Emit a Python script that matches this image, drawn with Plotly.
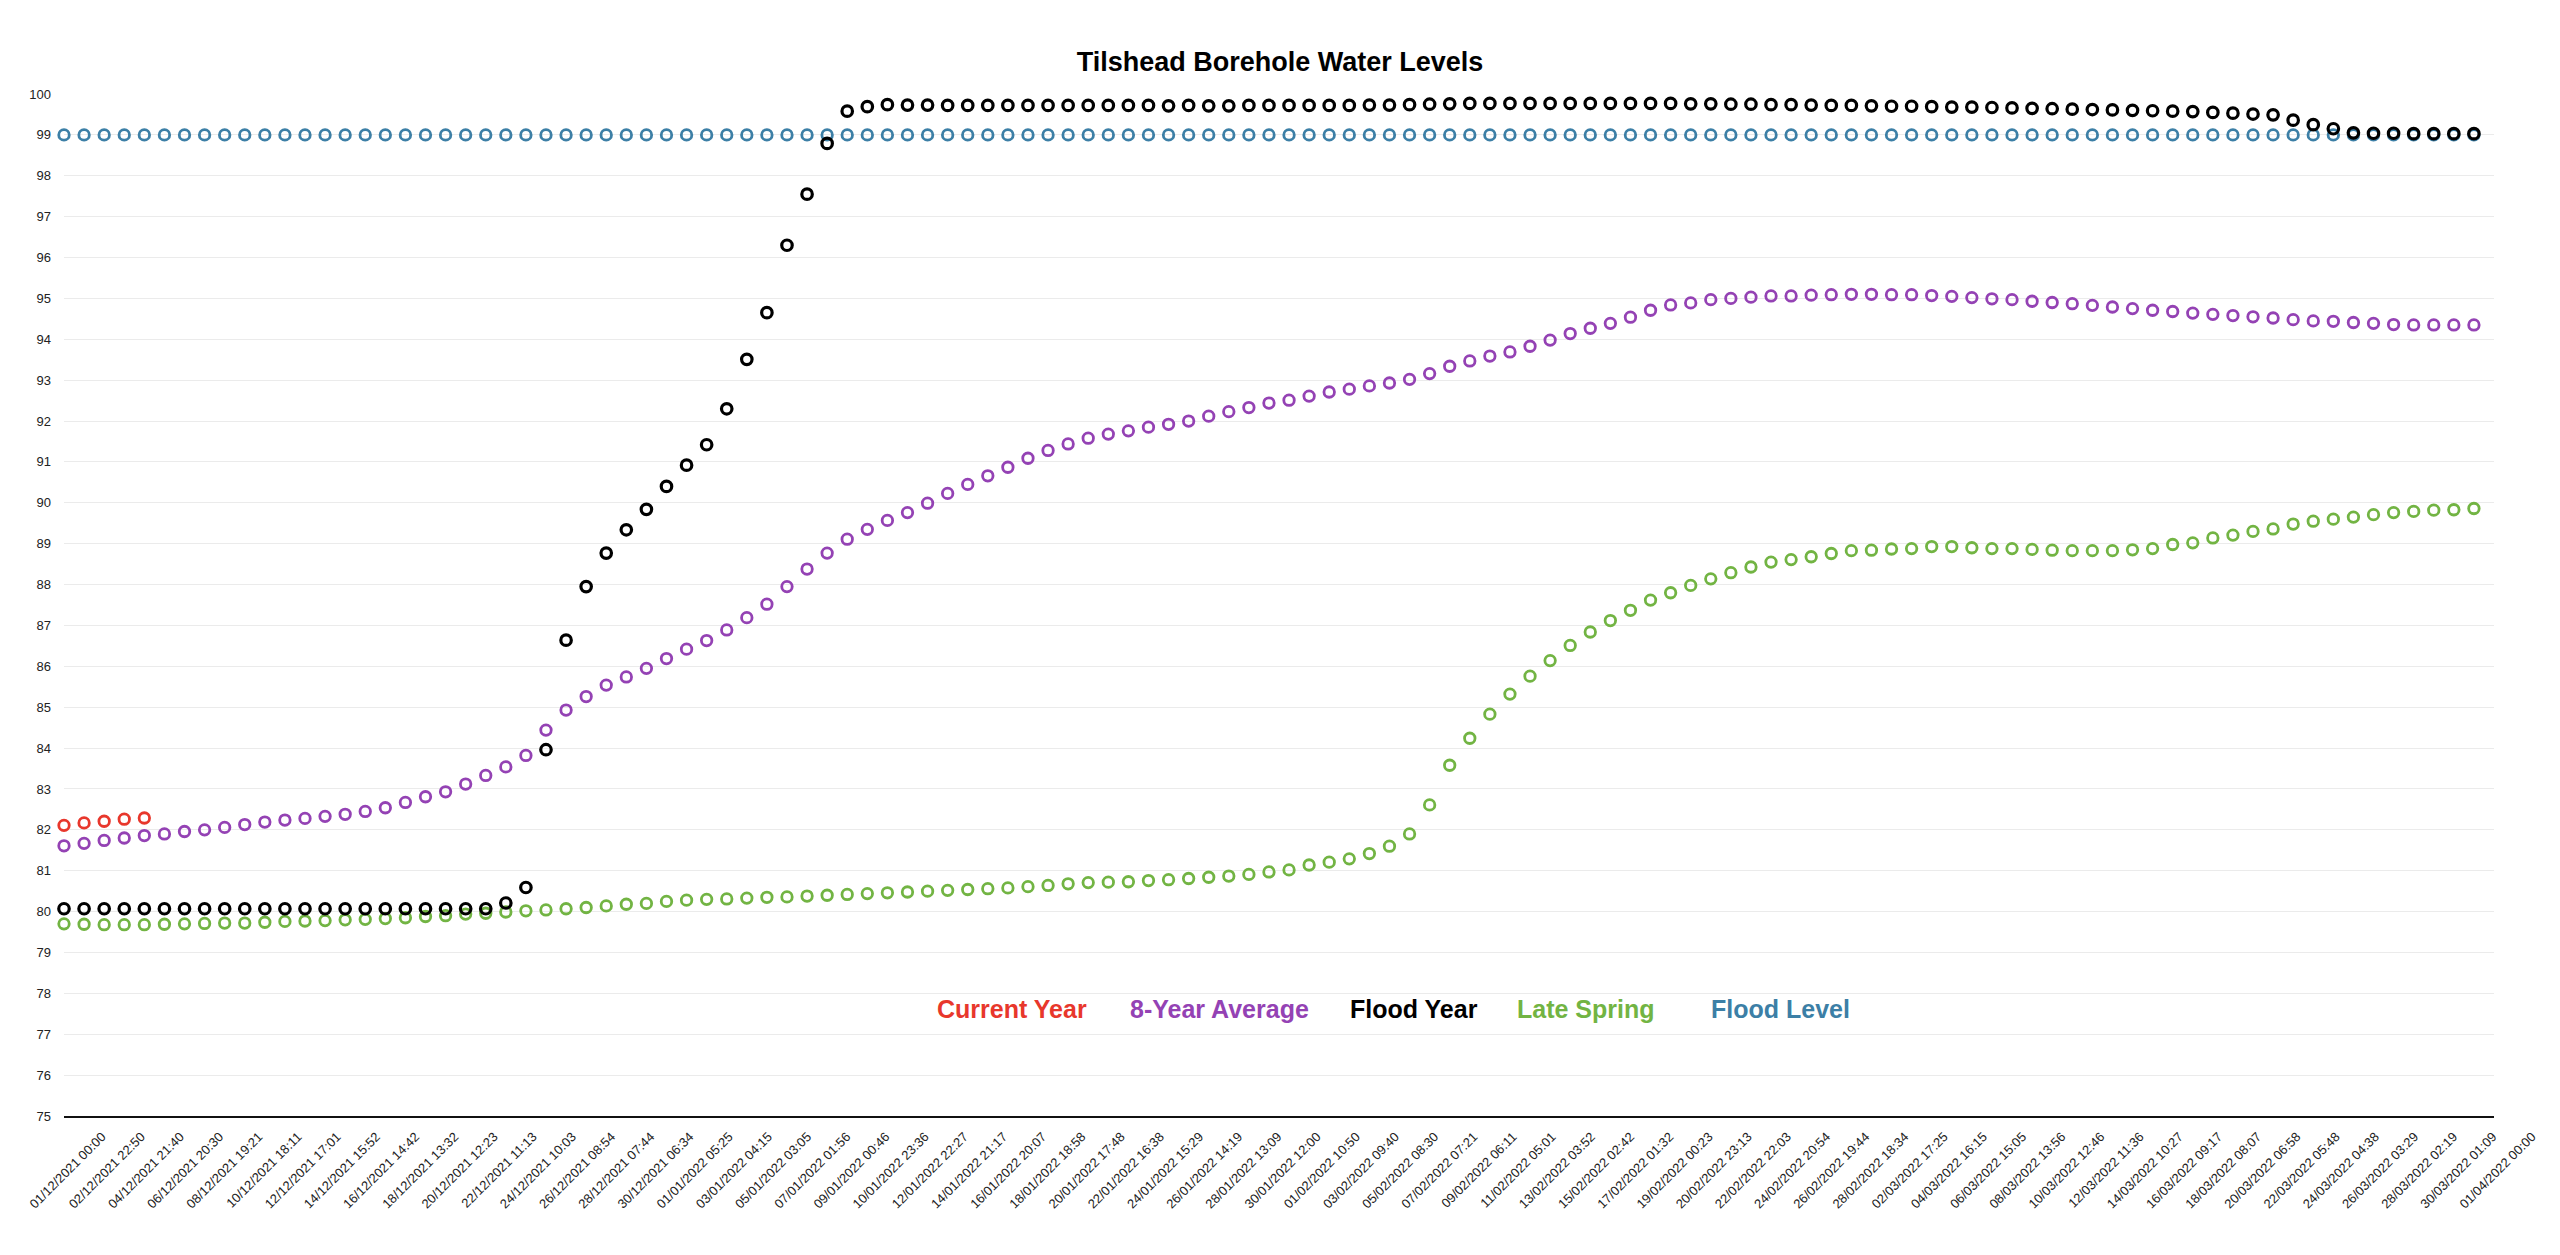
import pandas as pd
import plotly.graph_objects as go

# ---------------- data ----------------
start_date = "2021-12-01"

current_year = [82.11, 82.17, 82.21, 82.26, 82.29]

avg_8_year = [
    81.61, 81.67, 81.74, 81.80, 81.86, 81.90, 81.96, 82.00, 82.06, 82.13, 82.19, 82.24,
    82.28, 82.33, 82.38, 82.45, 82.54, 82.67, 82.81, 82.93, 83.12, 83.33, 83.54, 83.82,
    84.44, 84.93, 85.26, 85.54, 85.74, 85.95, 86.19, 86.42, 86.63, 86.89, 87.19, 87.52,
    87.95, 88.38, 88.77, 89.11, 89.35, 89.57, 89.76, 89.99, 90.23, 90.45, 90.66, 90.87,
    91.09,
    91.28, 91.44, 91.58, 91.68, 91.76, 91.85, 91.92, 92.00, 92.12, 92.23, 92.33, 92.44,
    92.51, 92.61, 92.71, 92.78, 92.86, 92.93, 93.02, 93.16, 93.34, 93.47, 93.59, 93.69,
    93.83, 93.98, 94.14, 94.27, 94.39, 94.54, 94.71,
    94.84, 94.89, 94.97, 95.00, 95.03, 95.06, 95.06, 95.08, 95.09, 95.10, 95.10, 95.09,
    95.09, 95.07, 95.05, 95.02, 94.99, 94.97, 94.93, 94.90, 94.87, 94.83, 94.79, 94.75,
    94.71, 94.68, 94.64, 94.61, 94.58, 94.55, 94.52, 94.48, 94.45, 94.44, 94.41, 94.39,
    94.36, 94.35, 94.35, 94.35, 94.35,
]

flood_year = [
    80.07, 80.07, 80.07, 80.07, 80.07, 80.07, 80.07, 80.07, 80.07, 80.07, 80.07,
    80.07, 80.07, 80.07, 80.07, 80.07, 80.07, 80.07, 80.07, 80.07, 80.07, 80.07,
    80.21, 80.59, 83.96, 86.64, 87.95, 88.77, 89.34, 89.84, 90.40, 90.92, 91.42,
    92.30, 93.51, 94.65, 96.30, 97.55, 98.79, 99.58, 99.69,
    99.74, 99.73, 99.73, 99.72, 99.72, 99.72, 99.72, 99.72,
    99.72, 99.72, 99.72, 99.72, 99.72, 99.72, 99.71, 99.72, 99.71, 99.71, 99.72,
    99.72, 99.72, 99.72, 99.72, 99.72, 99.73, 99.73, 99.74,
    99.75, 99.76, 99.77, 99.77, 99.77, 99.77, 99.77, 99.77, 99.77, 99.77, 99.77,
    99.77, 99.77, 99.76, 99.76, 99.75, 99.75, 99.74, 99.74, 99.73, 99.72, 99.72,
    99.71, 99.70, 99.70, 99.69, 99.68, 99.68, 99.67, 99.66, 99.65, 99.64, 99.63,
    99.62, 99.61, 99.60, 99.59, 99.58, 99.57, 99.55, 99.53, 99.51, 99.49,
    99.36, 99.25, 99.15, 99.05, 99.04, 99.04, 99.03, 99.03, 99.03, 99.03,
]

late_spring = [
    79.70, 79.69, 79.68, 79.68, 79.68, 79.69, 79.70, 79.71, 79.72, 79.72, 79.74, 79.76,
    79.77, 79.78, 79.80, 79.81, 79.83, 79.85, 79.88, 79.90, 79.94, 79.96, 79.99, 80.02,
    80.04, 80.07, 80.10, 80.14, 80.18, 80.20, 80.25, 80.28,
    80.30, 80.31, 80.33, 80.35, 80.36, 80.38, 80.40, 80.42, 80.44, 80.46, 80.48, 80.50,
    80.52, 80.54, 80.56, 80.58, 80.61,
    80.64, 80.68, 80.71, 80.72, 80.73, 80.76, 80.78, 80.81, 80.84, 80.87, 80.91, 80.97,
    81.02, 81.14, 81.21, 81.29, 81.42, 81.60, 81.90, 82.61, 83.58, 84.24, 84.83, 85.32,
    85.76, 86.14, 86.51, 86.84, 87.12, 87.37, 87.62,
    87.80, 87.98, 88.14, 88.29, 88.43, 88.55, 88.61, 88.68, 88.76, 88.83, 88.84, 88.87,
    88.88, 88.93, 88.93, 88.90, 88.88, 88.88, 88.86, 88.84, 88.83, 88.83, 88.83, 88.85,
    88.88, 88.98, 89.02, 89.14, 89.21, 89.30, 89.36, 89.48, 89.55, 89.60, 89.65, 89.71,
    89.76, 89.79, 89.82, 89.83, 89.86,
]

flood_level = [99.0] * 121

x_tick_labels = [
    "01/12/2021 00:00", "02/12/2021 22:50", "04/12/2021 21:40", "06/12/2021 20:30",
    "08/12/2021 19:21", "10/12/2021 18:11", "12/12/2021 17:01", "14/12/2021 15:52",
    "16/12/2021 14:42", "18/12/2021 13:32", "20/12/2021 12:23", "22/12/2021 11:13",
    "24/12/2021 10:03", "26/12/2021 08:54", "28/12/2021 07:44", "30/12/2021 06:34",
    "01/01/2022 05:25", "03/01/2022 04:15", "05/01/2022 03:05", "07/01/2022 01:56",
    "09/01/2022 00:46", "10/01/2022 23:36", "12/01/2022 22:27", "14/01/2022 21:17",
    "16/01/2022 20:07", "18/01/2022 18:58", "20/01/2022 17:48", "22/01/2022 16:38",
    "24/01/2022 15:29", "26/01/2022 14:19", "28/01/2022 13:09", "30/01/2022 12:00",
    "01/02/2022 10:50", "03/02/2022 09:40", "05/02/2022 08:30", "07/02/2022 07:21",
    "09/02/2022 06:11", "11/02/2022 05:01", "13/02/2022 03:52", "15/02/2022 02:42",
    "17/02/2022 01:32", "19/02/2022 00:23", "20/02/2022 23:13", "22/02/2022 22:03",
    "24/02/2022 20:54", "26/02/2022 19:44", "28/02/2022 18:34", "02/03/2022 17:25",
    "04/03/2022 16:15", "06/03/2022 15:05", "08/03/2022 13:56", "10/03/2022 12:46",
    "12/03/2022 11:36", "14/03/2022 10:27", "16/03/2022 09:17", "18/03/2022 08:07",
    "20/03/2022 06:58", "22/03/2022 05:48", "24/03/2022 04:38", "26/03/2022 03:29",
    "28/03/2022 02:19", "30/03/2022 01:09", "01/04/2022 00:00",
]

series_names = ["Current Year", "8-Year Average", "Flood Year", "Late Spring", "Flood Level"]
series_colors = ["#e8372c", "#9442b4", "#000000", "#72b443", "#3c7fa6"]

# ---------------- figure ----------------
dates = pd.date_range(start_date, periods=len(avg_8_year), freq="D")
tick_vals = pd.to_datetime(x_tick_labels, format="%d/%m/%Y %H:%M")

FONT = "Liberation Sans, Arial, Helvetica, sans-serif"

fig = go.Figure()

def add(values, idx, size=10.5, lw=2.8):
    fig.add_trace(go.Scatter(
        x=dates[:len(values)], y=values, mode="markers", name=series_names[idx],
        marker=dict(symbol="circle-open", size=size, color=series_colors[idx],
                    line=dict(width=lw, color=series_colors[idx])),
        cliponaxis=False, showlegend=False,
    ))

# draw order: flood level at bottom, flood year on top
add(flood_level, 4)
add(late_spring, 3)
add(avg_8_year, 1)
add(current_year, 0)
add(flood_year, 2, size=10.5, lw=3.2)

# legend as coloured text
legend_x = [0.3584, 0.4379, 0.5284, 0.5971, 0.6770]
for name, color, lx in zip(series_names, series_colors, legend_x):
    fig.add_annotation(
        x=lx, y=0.1047, xref="paper", yref="paper", xanchor="left", yanchor="middle",
        text=name, showarrow=False,
        font=dict(family=FONT, size=25, color=color, weight="bold"),
    )

fig.update_layout(
    width=2560, height=1255,
    margin=dict(l=64, r=66, t=94, b=139),
    paper_bgcolor="white", plot_bgcolor="white",
    title=dict(text="Tilshead Borehole Water Levels", x=0.5, xanchor="center",
               xref="container", y=1 - 62 / 1255, yref="container", yanchor="middle",
               font=dict(family=FONT, size=27, color="#000000", weight="bold")),
    font=dict(family=FONT, color="#222222"),
    showlegend=False,
)

fig.update_xaxes(
    type="date",
    range=[dates[0], pd.Timestamp("2022-04-01")],
    tickmode="array", tickvals=tick_vals, ticktext=x_tick_labels,
    tickangle=-45, tickfont=dict(family=FONT, size=13, color="#222222"),
    ticklabelshift=38, ticklabelstandoff=6,
    showgrid=False, zeroline=False,
    showline=True, linecolor="#111111", linewidth=2,
    ticks="",
)

fig.update_yaxes(
    range=[75, 100], tickmode="linear", tick0=75, dtick=1,
    tickfont=dict(family=FONT, size=13, color="#222222"),
    showgrid=True, gridcolor="#ebebeb", gridwidth=1,
    zeroline=False, showline=False, ticks="", ticklabelstandoff=12,
)

fig.write_html(
    "out.html",
    config={"displayModeBar": False},
    post_script="document.body.style.margin='0';document.body.style.overflow='hidden';",
)
